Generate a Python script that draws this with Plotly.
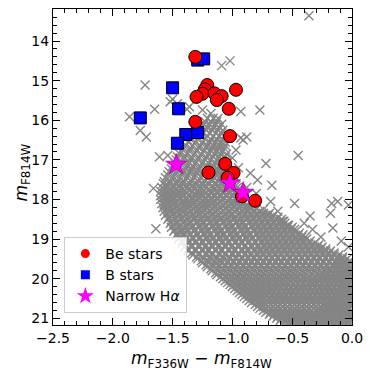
import plotly.graph_objects as go

# ---- Be stars (red circles) ----
be_color = [-1.31, -1.21, -1.23, -1.25, -1.30, -1.15, -1.09, -1.13, -0.97, -1.03,
            -1.31, -1.02, -1.06, -1.20, -0.99, -1.04, -0.92, -0.81]
be_mag = [14.40, 15.11, 15.22, 15.33, 15.41, 15.32, 15.39, 15.49, 15.23, 15.71,
          16.04, 16.40, 17.10, 17.32, 17.33, 17.45, 17.92, 18.03]

# ---- B stars (blue squares) ----
b_color = [-1.29, -1.24, -1.50, -1.45, -1.77, -1.39, -1.29, -1.46]
b_mag = [14.48, 14.45, 15.18, 15.71, 15.94, 16.36, 16.31, 16.58]

# ---- Narrow H-alpha (magenta stars) ----
nh_color = [-1.47, -1.02, -0.91]
nh_mag = [17.12, 17.59, 17.83]

# ---- field stars (grey crosses): dense band read row by row ----
row_mags = [15.95, 16.10, 16.25, 16.40, 16.55, 16.70, 16.85, 17.00, 17.15, 17.30, 17.45,
            17.6, 17.7, 17.8, 17.9, 18.0, 18.1, 18.2, 18.3, 18.4, 18.5, 18.6, 18.7, 18.8,
            18.9, 19.0, 19.1, 19.2, 19.3, 19.4, 19.5, 19.6, 19.7, 19.8, 19.9, 20.0, 20.1,
            20.2, 20.3, 20.4, 20.5, 20.6, 20.7, 20.8, 20.9, 21.0, 21.1]
row_colors = [
    [-1.21, -1.16, -1.12],
    [-1.24, -1.19, -1.14, -1.09],
    [-1.28, -1.22, -1.17, -1.12, -1.08],
    [-1.33, -1.27, -1.21, -1.16, -1.11, -1.07],
    [-1.37, -1.31, -1.25, -1.19, -1.14, -1.10, -1.06],
    [-1.41, -1.35, -1.28, -1.22, -1.17, -1.12, -1.07],
    [-1.44, -1.38, -1.32, -1.26, -1.20, -1.15, -1.10, -1.05],
    [-1.47, -1.41, -1.35, -1.29, -1.23, -1.18, -1.13, -1.08],
    [-1.50, -1.44, -1.38, -1.33, -1.27, -1.21, -1.16, -1.11, -1.06],
    [-1.53, -1.47, -1.41, -1.35, -1.30, -1.24, -1.18, -1.13, -1.08, -1.03],
    [-1.56, -1.50, -1.44, -1.38, -1.32, -1.26, -1.21, -1.15, -1.10, -1.05],
    [-1.58, -1.53, -1.47, -1.42, -1.36, -1.31, -1.25, -1.20, -1.14, -1.09, -1.04, -0.99],
    [-1.59, -1.54, -1.49, -1.43, -1.38, -1.32, -1.27, -1.22, -1.16, -1.11, -1.06, -1.01, -0.96],
    [-1.60, -1.55, -1.50, -1.45, -1.40, -1.34, -1.29, -1.24, -1.18, -1.13, -1.08, -1.03, -0.98, -0.93],
    [-1.60, -1.56, -1.51, -1.46, -1.41, -1.36, -1.30, -1.25, -1.20, -1.15, -1.10, -1.05, -1.00, -0.95],
    [-1.60, -1.55, -1.50, -1.44, -1.39, -1.34, -1.29, -1.23, -1.18, -1.13, -1.08, -1.02, -0.97, -0.92],
    [-1.59, -1.54, -1.49, -1.43, -1.38, -1.33, -1.27, -1.22, -1.17, -1.12, -1.06, -1.01, -0.96, -0.91],
    [-1.58, -1.53, -1.47, -1.42, -1.37, -1.31, -1.26, -1.21, -1.15, -1.10, -1.05, -0.99, -0.94, -0.89, -0.84],
    [-1.57, -1.52, -1.46, -1.41, -1.35, -1.30, -1.25, -1.19, -1.14, -1.08, -1.03, -0.98, -0.92, -0.87, -0.82, -0.77],
    [-1.56, -1.50, -1.45, -1.39, -1.34, -1.28, -1.23, -1.17, -1.12, -1.06, -1.01, -0.95, -0.90, -0.85, -0.80, -0.75, -0.70, -0.66],
    [-1.54, -1.49, -1.43, -1.38, -1.32, -1.27, -1.21, -1.16, -1.10, -1.05, -0.99, -0.94, -0.88, -0.83, -0.78, -0.73, -0.68, -0.63, -0.59],
    [-1.52, -1.47, -1.41, -1.36, -1.30, -1.25, -1.19, -1.14, -1.08, -1.03, -0.97, -0.92, -0.86, -0.81, -0.76, -0.71, -0.66, -0.61, -0.56],
    [-1.51, -1.45, -1.40, -1.34, -1.28, -1.23, -1.17, -1.12, -1.06, -1.01, -0.95, -0.90, -0.84, -0.79, -0.74, -0.69, -0.64, -0.59, -0.54, -0.50],
    [-1.49, -1.43, -1.38, -1.32, -1.26, -1.21, -1.15, -1.10, -1.04, -0.99, -0.93, -0.88, -0.82, -0.77, -0.72, -0.67, -0.62, -0.57, -0.52, -0.47],
    [-1.47, -1.41, -1.36, -1.30, -1.24, -1.19, -1.13, -1.08, -1.02, -0.97, -0.91, -0.86, -0.80, -0.75, -0.70, -0.65, -0.60, -0.55, -0.50, -0.45, -0.41],
    [-1.45, -1.39, -1.33, -1.28, -1.22, -1.17, -1.11, -1.06, -1.00, -0.95, -0.89, -0.84, -0.78, -0.73, -0.68, -0.63, -0.58, -0.53, -0.48, -0.43, -0.38],
    [-1.42, -1.37, -1.31, -1.25, -1.20, -1.14, -1.09, -1.03, -0.98, -0.92, -0.87, -0.81, -0.76, -0.71, -0.66, -0.61, -0.56, -0.51, -0.46, -0.41, -0.36, -0.31],
    [-1.40, -1.34, -1.28, -1.23, -1.17, -1.12, -1.06, -1.01, -0.95, -0.90, -0.84, -0.79, -0.74, -0.69, -0.64, -0.59, -0.54, -0.49, -0.44, -0.39, -0.34, -0.29, -0.25],
    [-1.37, -1.31, -1.25, -1.20, -1.14, -1.09, -1.03, -0.98, -0.92, -0.87, -0.82, -0.77, -0.72, -0.67, -0.62, -0.57, -0.52, -0.47, -0.42, -0.37, -0.32, -0.27, -0.22, -0.18],
    [-1.33, -1.28, -1.22, -1.17, -1.11, -1.06, -1.00, -0.95, -0.90, -0.85, -0.80, -0.75, -0.70, -0.65, -0.60, -0.55, -0.50, -0.45, -0.40, -0.35, -0.30, -0.25, -0.20, -0.15, -0.11],
    [-1.29, -1.24, -1.18, -1.13, -1.07, -1.02, -0.97, -0.92, -0.87, -0.82, -0.77, -0.72, -0.67, -0.62, -0.57, -0.52, -0.47, -0.42, -0.37, -0.32, -0.27, -0.22, -0.17, -0.12, -0.08, -0.04],
    [-1.25, -1.20, -1.14, -1.09, -1.04, -0.99, -0.94, -0.89, -0.84, -0.79, -0.74, -0.69, -0.64, -0.59, -0.54, -0.49, -0.44, -0.39, -0.34, -0.29, -0.24, -0.19, -0.14, -0.10, -0.06, -0.02],
    [-1.21, -1.16, -1.11, -1.06, -1.01, -0.96, -0.91, -0.86, -0.81, -0.76, -0.71, -0.66, -0.61, -0.56, -0.51, -0.46, -0.41, -0.36, -0.31, -0.26, -0.21, -0.16, -0.12, -0.08, -0.04, -0.01],
    [-1.17, -1.12, -1.07, -1.02, -0.97, -0.92, -0.87, -0.82, -0.77, -0.72, -0.67, -0.62, -0.57, -0.52, -0.47, -0.42, -0.37, -0.32, -0.27, -0.22, -0.18, -0.14, -0.10, -0.06, -0.02],
    [-1.13, -1.08, -1.03, -0.98, -0.93, -0.88, -0.83, -0.78, -0.73, -0.68, -0.63, -0.58, -0.53, -0.48, -0.43, -0.38, -0.33, -0.28, -0.24, -0.20, -0.16, -0.12, -0.08, -0.04, -0.01],
    [-1.08, -1.03, -0.98, -0.93, -0.88, -0.83, -0.78, -0.73, -0.68, -0.63, -0.58, -0.53, -0.48, -0.43, -0.38, -0.34, -0.30, -0.26, -0.22, -0.18, -0.14, -0.10, -0.06, -0.03],
    [-1.04, -0.99, -0.94, -0.89, -0.84, -0.79, -0.74, -0.69, -0.64, -0.59, -0.54, -0.49, -0.45, -0.41, -0.37, -0.33, -0.29, -0.25, -0.21, -0.17, -0.13, -0.09, -0.05, -0.02],
    [-1.00, -0.95, -0.90, -0.85, -0.80, -0.75, -0.70, -0.65, -0.60, -0.55, -0.51, -0.47, -0.43, -0.39, -0.35, -0.31, -0.27, -0.23, -0.19, -0.15, -0.11, -0.07, -0.04, -0.01],
    [-0.96, -0.91, -0.86, -0.81, -0.76, -0.71, -0.66, -0.61, -0.57, -0.53, -0.49, -0.45, -0.41, -0.37, -0.33, -0.29, -0.25, -0.21, -0.17, -0.13, -0.09, -0.06, -0.03],
    [-0.92, -0.87, -0.82, -0.77, -0.72, -0.67, -0.63, -0.59, -0.55, -0.51, -0.47, -0.43, -0.39, -0.35, -0.31, -0.27, -0.23, -0.19, -0.15, -0.11, -0.08, -0.05, -0.02],
    [-0.88, -0.83, -0.78, -0.73, -0.69, -0.65, -0.61, -0.57, -0.53, -0.49, -0.45, -0.41, -0.37, -0.33, -0.29, -0.25, -0.21, -0.17, -0.13, -0.10, -0.07, -0.04, -0.01],
    [-0.84, -0.79, -0.74, -0.70, -0.66, -0.62, -0.58, -0.54, -0.50, -0.46, -0.42, -0.38, -0.34, -0.30, -0.26, -0.22, -0.18, -0.15, -0.12, -0.09, -0.06, -0.03],
    [-0.79, -0.74, -0.70, -0.66, -0.62, -0.58, -0.54, -0.50, -0.46, -0.42, -0.38, -0.34, -0.30, -0.26, -0.22, -0.19, -0.16, -0.13, -0.10, -0.07, -0.04, -0.01],
    [-0.74, -0.70, -0.66, -0.62, -0.58, -0.54, -0.50, -0.46, -0.42, -0.38, -0.34, -0.30, -0.27, -0.24, -0.21, -0.18, -0.15, -0.12, -0.09, -0.06, -0.03],
    [-0.69, -0.65, -0.61, -0.57, -0.53, -0.49, -0.45, -0.41, -0.37, -0.33, -0.30, -0.27, -0.24, -0.21, -0.18, -0.15, -0.12, -0.09, -0.06, -0.03, -0.01],
    [-0.63, -0.59, -0.55, -0.51, -0.47, -0.43, -0.39, -0.35, -0.32, -0.29, -0.26, -0.23, -0.20, -0.17, -0.14, -0.11, -0.08, -0.05, -0.02],
    [-0.56, -0.52, -0.48, -0.44, -0.40, -0.36, -0.33, -0.30, -0.27, -0.24, -0.21, -0.18, -0.15, -0.12, -0.09, -0.06, -0.03],
]

# ---- field stars between the rows above ----
half_mags = [16.03, 16.18, 16.33, 16.48, 16.63, 16.78, 16.93, 17.08, 17.23, 17.38,
             17.55, 17.65, 17.75, 17.85, 17.95, 18.05, 18.15, 18.25, 18.35, 18.45,
             18.55, 18.65, 18.75, 18.85, 18.95, 19.05, 19.15, 19.25, 19.35, 19.45,
             19.55, 19.65, 19.75, 19.85, 19.95, 20.05, 20.15, 20.25, 20.35, 20.45,
             20.55, 20.65, 20.75, 20.85, 20.95, 21.05, 21.15]
half_colors = [
    [-1.23, -1.18, -1.13],
    [-1.26, -1.21, -1.16, -1.11],
    [-1.30, -1.25, -1.19, -1.14, -1.09],
    [-1.35, -1.29, -1.23, -1.18, -1.13, -1.08],
    [-1.39, -1.33, -1.27, -1.21, -1.16, -1.11, -1.06],
    [-1.43, -1.36, -1.30, -1.24, -1.18, -1.13, -1.08],
    [-1.46, -1.40, -1.34, -1.28, -1.22, -1.16, -1.11, -1.06],
    [-1.48, -1.42, -1.36, -1.31, -1.25, -1.20, -1.14, -1.09],
    [-1.51, -1.45, -1.39, -1.34, -1.28, -1.22, -1.17, -1.12, -1.07],
    [-1.54, -1.48, -1.42, -1.37, -1.31, -1.25, -1.19, -1.14, -1.09, -1.04],
    [-1.57, -1.51, -1.45, -1.40, -1.34, -1.28, -1.23, -1.17, -1.12, -1.07, -1.02],
    [-1.56, -1.50, -1.45, -1.39, -1.34, -1.28, -1.23, -1.17, -1.12, -1.07, -1.02, -0.97],
    [-1.57, -1.52, -1.47, -1.42, -1.36, -1.31, -1.26, -1.20, -1.15, -1.10, -1.05, -1.00, -0.95],
    [-1.58, -1.53, -1.48, -1.43, -1.38, -1.32, -1.27, -1.22, -1.17, -1.12, -1.07, -1.02, -0.97, -0.92],
    [-1.58, -1.53, -1.48, -1.43, -1.38, -1.33, -1.27, -1.22, -1.17, -1.12, -1.07, -1.02, -0.97, -0.92],
    [-1.57, -1.52, -1.47, -1.41, -1.36, -1.31, -1.25, -1.20, -1.15, -1.10, -1.04, -0.99, -0.94],
    [-1.56, -1.51, -1.46, -1.40, -1.35, -1.30, -1.24, -1.19, -1.14, -1.08, -1.03, -0.98, -0.93, -0.88],
    [-1.55, -1.50, -1.44, -1.39, -1.33, -1.28, -1.23, -1.17, -1.12, -1.06, -1.01, -0.96, -0.90, -0.85, -0.80],
    [-1.54, -1.49, -1.43, -1.38, -1.32, -1.27, -1.21, -1.16, -1.10, -1.05, -1.00, -0.94, -0.89, -0.84, -0.79, -0.74, -0.69],
    [-1.53, -1.47, -1.42, -1.36, -1.31, -1.25, -1.20, -1.14, -1.09, -1.03, -0.98, -0.92, -0.87, -0.82, -0.77, -0.72, -0.67, -0.62],
    [-1.51, -1.46, -1.40, -1.35, -1.29, -1.24, -1.18, -1.13, -1.07, -1.02, -0.96, -0.91, -0.85, -0.80, -0.75, -0.70, -0.65, -0.60, -0.57],
    [-1.49, -1.44, -1.38, -1.33, -1.27, -1.22, -1.16, -1.11, -1.05, -1.00, -0.94, -0.89, -0.83, -0.78, -0.73, -0.68, -0.63, -0.58, -0.53],
    [-1.48, -1.42, -1.37, -1.31, -1.25, -1.20, -1.14, -1.09, -1.03, -0.98, -0.92, -0.87, -0.81, -0.76, -0.71, -0.66, -0.61, -0.56, -0.51, -0.48],
    [-1.46, -1.40, -1.35, -1.29, -1.23, -1.18, -1.12, -1.07, -1.01, -0.96, -0.90, -0.85, -0.79, -0.74, -0.69, -0.64, -0.59, -0.54, -0.49, -0.44],
    [-1.44, -1.38, -1.33, -1.27, -1.21, -1.16, -1.10, -1.05, -0.99, -0.94, -0.88, -0.83, -0.77, -0.72, -0.67, -0.62, -0.57, -0.52, -0.47, -0.42, -0.39],
    [-1.42, -1.36, -1.30, -1.25, -1.19, -1.14, -1.08, -1.03, -0.97, -0.92, -0.86, -0.81, -0.75, -0.70, -0.65, -0.60, -0.55, -0.50, -0.45, -0.40, -0.35],
    [-1.39, -1.34, -1.28, -1.22, -1.17, -1.11, -1.06, -1.00, -0.95, -0.89, -0.84, -0.78, -0.73, -0.68, -0.63, -0.58, -0.53, -0.48, -0.43, -0.38, -0.33, -0.28],
    [-1.37, -1.31, -1.25, -1.20, -1.14, -1.09, -1.03, -0.98, -0.92, -0.87, -0.81, -0.76, -0.71, -0.66, -0.61, -0.56, -0.51, -0.46, -0.41, -0.36, -0.31, -0.26, -0.22],
    [-1.34, -1.28, -1.22, -1.17, -1.11, -1.06, -1.00, -0.95, -0.89, -0.84, -0.79, -0.74, -0.69, -0.64, -0.59, -0.54, -0.49, -0.44, -0.39, -0.34, -0.29, -0.24, -0.19, -0.15],
    [-1.30, -1.25, -1.19, -1.14, -1.08, -1.03, -0.97, -0.92, -0.87, -0.82, -0.77, -0.72, -0.67, -0.62, -0.57, -0.52, -0.47, -0.42, -0.37, -0.32, -0.27, -0.22, -0.17, -0.12, -0.08],
    [-1.26, -1.21, -1.15, -1.10, -1.04, -0.99, -0.94, -0.89, -0.84, -0.79, -0.74, -0.69, -0.64, -0.59, -0.54, -0.49, -0.44, -0.39, -0.34, -0.29, -0.24, -0.19, -0.14, -0.10, -0.06, -0.02],
    [-1.22, -1.17, -1.11, -1.06, -1.01, -0.96, -0.91, -0.86, -0.81, -0.76, -0.71, -0.66, -0.61, -0.56, -0.51, -0.46, -0.41, -0.36, -0.31, -0.26, -0.21, -0.16, -0.12, -0.08, -0.04],
    [-1.18, -1.13, -1.08, -1.03, -0.98, -0.93, -0.88, -0.83, -0.78, -0.73, -0.68, -0.63, -0.58, -0.53, -0.48, -0.43, -0.38, -0.33, -0.28, -0.23, -0.19, -0.14, -0.10, -0.06, -0.02],
    [-1.14, -1.09, -1.04, -0.99, -0.94, -0.89, -0.84, -0.79, -0.74, -0.69, -0.64, -0.59, -0.54, -0.49, -0.44, -0.39, -0.34, -0.29, -0.25, -0.20, -0.16, -0.12, -0.08, -0.04, -0.01],
    [-1.10, -1.05, -1.00, -0.95, -0.90, -0.85, -0.80, -0.75, -0.70, -0.65, -0.60, -0.55, -0.50, -0.45, -0.40, -0.36, -0.31, -0.26, -0.22, -0.18, -0.14, -0.10, -0.06, -0.02],
    [-1.06, -1.01, -0.96, -0.91, -0.86, -0.81, -0.76, -0.71, -0.66, -0.61, -0.56, -0.51, -0.47, -0.43, -0.39, -0.35, -0.31, -0.27, -0.23, -0.19, -0.15, -0.11, -0.07, -0.04, -0.01],
    [-1.02, -0.97, -0.92, -0.87, -0.82, -0.77, -0.72, -0.67, -0.62, -0.57, -0.53, -0.49, -0.45, -0.41, -0.37, -0.33, -0.29, -0.25, -0.21, -0.17, -0.13, -0.09, -0.06, -0.03],
    [-0.98, -0.93, -0.88, -0.83, -0.78, -0.73, -0.68, -0.63, -0.59, -0.55, -0.51, -0.47, -0.43, -0.39, -0.35, -0.31, -0.27, -0.23, -0.19, -0.15, -0.11, -0.08, -0.05, -0.02],
    [-0.94, -0.89, -0.84, -0.79, -0.74, -0.69, -0.65, -0.61, -0.57, -0.53, -0.49, -0.45, -0.41, -0.37, -0.33, -0.29, -0.25, -0.21, -0.17, -0.13, -0.10, -0.07, -0.04, -0.01],
    [-0.90, -0.85, -0.80, -0.75, -0.71, -0.67, -0.63, -0.59, -0.55, -0.51, -0.47, -0.43, -0.39, -0.35, -0.31, -0.27, -0.23, -0.19, -0.15, -0.12, -0.09, -0.06, -0.03],
    [-0.86, -0.81, -0.76, -0.72, -0.68, -0.64, -0.60, -0.56, -0.52, -0.48, -0.44, -0.40, -0.36, -0.32, -0.28, -0.24, -0.20, -0.16, -0.13, -0.10, -0.07, -0.04, -0.02],
    [-0.81, -0.77, -0.72, -0.68, -0.64, -0.60, -0.56, -0.52, -0.48, -0.44, -0.40, -0.36, -0.32, -0.28, -0.24, -0.20, -0.17, -0.14, -0.11, -0.08, -0.05, -0.02],
    [-0.77, -0.72, -0.68, -0.64, -0.60, -0.56, -0.52, -0.48, -0.44, -0.40, -0.36, -0.32, -0.28, -0.25, -0.22, -0.19, -0.16, -0.13, -0.10, -0.07, -0.04, -0.02],
    [-0.72, -0.68, -0.64, -0.60, -0.56, -0.52, -0.48, -0.44, -0.40, -0.36, -0.32, -0.29, -0.26, -0.23, -0.20, -0.17, -0.14, -0.11, -0.08, -0.05, -0.02],
    [-0.66, -0.62, -0.58, -0.54, -0.50, -0.46, -0.42, -0.38, -0.34, -0.31, -0.28, -0.25, -0.22, -0.19, -0.16, -0.13, -0.10, -0.07, -0.04, -0.02],
    [-0.60, -0.56, -0.52, -0.48, -0.44, -0.40, -0.37, -0.34, -0.31, -0.28, -0.25, -0.22, -0.19, -0.16, -0.13, -0.10, -0.07, -0.04, -0.01],
    [-0.52, -0.48, -0.44, -0.40, -0.36, -0.32, -0.29, -0.26, -0.23, -0.20, -0.17, -0.14, -0.11, -0.08, -0.05, -0.02],
]

# ---- sparse field stars outside the band ----
out_color = [-0.36, -1.02, -1.09, -1.73, -1.50, -1.52, -1.65, -1.86, -1.77, -1.72,
             -0.77, -0.93, -0.88, -0.45, -1.61, -0.72, -0.85, -1.66, -1.57, -0.79,
             -0.67, -0.68, -0.48, -0.17, -0.12, -0.03, -0.18, -0.35, -0.33, -0.16,
             -1.64, -1.43, -0.03, -0.54, -1.36, -1.25, -1.18, -0.93, -0.91, -0.97,
             -1.54, -1.46, -1.38, -1.00, -0.95, -0.62, -0.58, -0.26, -0.40, -0.09,
             -0.86, -0.74, -0.88, -0.80, -0.71]
out_mag = [13.36, 14.50, 14.62, 15.11, 15.47, 15.53, 15.72, 15.91, 16.26, 16.42,
           15.74, 16.45, 16.42, 16.89, 16.92, 17.09, 17.34, 17.72, 18.12, 17.51,
           17.64, 18.05, 18.10, 18.10, 18.05, 18.14, 18.35, 18.42, 18.76, 18.72,
           18.74, 18.85, 19.20, 18.65, 15.66, 15.74, 15.83, 15.78, 16.50, 16.75,
           16.89, 15.58, 15.72, 16.95, 17.20, 18.30, 18.55, 18.95, 18.60, 19.05,
           18.20, 18.25, 17.70, 17.85, 18.40]

field_x = ([c for row in row_colors for c in row]
           + [c for row in half_colors for c in row] + out_color)
field_y = ([m for m, row in zip(row_mags, row_colors) for _ in row]
           + [m for m, row in zip(half_mags, half_colors) for _ in row] + out_mag)

FONT = "DejaVu Sans"
RED, BLUE, MAGENTA = "#ff0000", "#0000ff", "#ff00ff"

fig = go.Figure()
fig.add_trace(go.Scatter(
    x=field_x, y=field_y, mode="markers", showlegend=False, hoverinfo="skip",
    marker=dict(symbol="x-thin", size=9, line=dict(color="#858585", width=1.4))))
fig.add_trace(go.Scatter(
    x=b_color, y=b_mag, mode="markers", showlegend=False,
    marker=dict(symbol="square", size=12, color=BLUE, line=dict(color="black", width=1))))
fig.add_trace(go.Scatter(
    x=be_color, y=be_mag, mode="markers", showlegend=False,
    marker=dict(symbol="circle", size=13, color=RED, line=dict(color="black", width=1))))
fig.add_trace(go.Scatter(
    x=nh_color, y=nh_mag, mode="markers", showlegend=False,
    marker=dict(symbol="star", size=16, color=MAGENTA, line=dict(color="#8a008a", width=0.6))))

# legend entries (markers without edges, as in the reference legend)
for name, sym, size, col in [("Be stars", "circle", 9, RED),
                             ("B stars", "square", 9, BLUE),
                             ("Narrow H<i>α</i>", "star", 13, MAGENTA)]:
    fig.add_trace(go.Scatter(x=[None], y=[None], mode="markers", name=name,
                             marker=dict(symbol=sym, size=size, color=col, line=dict(width=0))))

axis_common = dict(
    showline=True, linecolor="black", linewidth=1.2, mirror="allticks",
    ticks="inside", ticklen=7, tickwidth=1.2, tickcolor="black",
    showgrid=False, zeroline=False, automargin=False,
    tickfont=dict(family=FONT, size=14, color="black"),
)

fig.update_xaxes(
    range=[-2.5, 0.0], tick0=0, dtick=0.5, tickformat=".1f",
    minor=dict(ticks="inside", ticklen=4, tickwidth=1, tickcolor="black", dtick=0.1, showgrid=False),
    **axis_common)
fig.update_yaxes(
    range=[21.17, 13.19], tick0=0, dtick=1,
    minor=dict(ticks="inside", ticklen=4, tickwidth=1, tickcolor="black", dtick=0.2, showgrid=False),
    **axis_common)

fig.add_annotation(
    text="<i>m</i><sub>F336W</sub> − <i>m</i><sub>F814W</sub>",
    xref="paper", yref="paper", x=0.498, y=-0.066, xanchor="center", yanchor="top",
    showarrow=False, font=dict(family=FONT, size=17, color="black"))
fig.add_annotation(
    text="<i>m</i><sub>F814W</sub>", textangle=-90,
    xref="paper", yref="paper", x=-0.105, y=0.481, xanchor="center", yanchor="middle",
    showarrow=False, font=dict(family=FONT, size=17, color="black"))

fig.update_layout(
    width=374, height=374,
    margin=dict(l=53, r=22, t=9, b=49),
    paper_bgcolor="white", plot_bgcolor="white",
    font=dict(family=FONT, size=14, color="black"),
    legend=dict(x=0.038, y=0.038, xanchor="left", yanchor="bottom",
                bgcolor="rgba(255,255,255,0.85)", bordercolor="#cccccc", borderwidth=1,
                font=dict(family=FONT, size=14, color="black"), tracegroupgap=0,
                itemwidth=30),
)

fig.write_html("out.html", config={"displayModeBar": False},
               post_script="document.body.style.margin='0';document.body.style.padding='0';")
